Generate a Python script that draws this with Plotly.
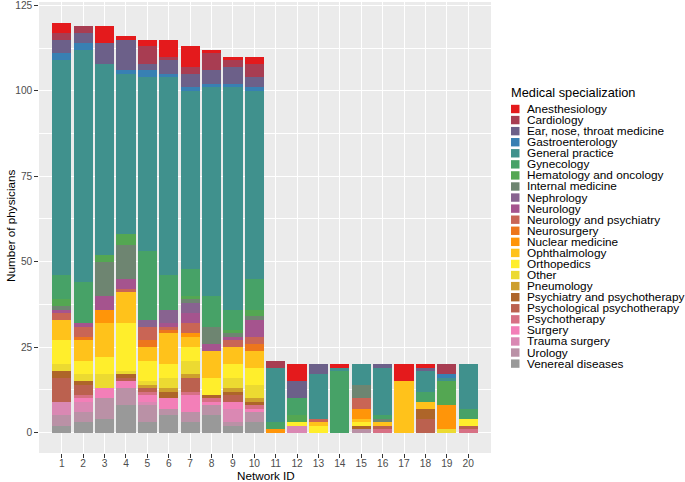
import plotly.graph_objects as go

# ---------------- data ----------------
network_ids = list(range(1, 21))
tick_labels = [str(i) for i in network_ids]

specializations = [
    "Anesthesiology", "Cardiology", "Ear, nose, throat medicine", "Gastroenterology",
    "General practice", "Gynecology", "Hematology and oncology", "Internal medicine",
    "Nephrology", "Neurology", "Neurology and psychiatry", "Neurosurgery",
    "Nuclear medicine", "Ophthalmology", "Orthopedics", "Other", "Pneumology",
    "Psychiatry and psychotherapy", "Psychological psychotherapy", "Psychotherapy",
    "Surgery", "Trauma surgery", "Urology", "Venereal diseases",
]

anesthesiology = [3, 0, 5, 1, 2, 5, 6, 1, 1, 2, 0, 5, 0, 1, 0, 0, 5, 1, 0, 0]
cardiology     = [2, 2, 0, 0, 5, 1, 2, 5, 2, 4, 2, 0, 0, 0, 0, 0, 0, 0, 3, 0]
ent            = [4, 3, 6, 9, 2, 4, 4, 4, 5, 3, 0, 5, 3, 0, 0, 1, 0, 1, 0, 0]
gastro         = [2, 2, 0, 1, 2, 1, 1, 1, 1, 1, 0, 0, 0, 0, 0, 0, 0, 0, 1, 0]
general        = [63, 68, 56, 47, 51, 58, 52, 61, 65, 55, 16, 0, 13, 1, 6, 14, 0, 6, 1, 13]
gynecology     = [7, 12, 0, 0, 20, 10, 8, 9, 6, 9, 2, 5, 0, 18, 0, 1, 0, 3, 0, 3]
hematology     = [2, 0, 2, 3, 0, 0, 1, 0, 1, 2, 0, 2, 0, 0, 0, 0, 0, 0, 7, 0]
internal       = [1, 0, 10, 10, 0, 0, 1, 5, 1, 1, 0, 0, 0, 0, 4, 1, 0, 0, 0, 0]
nephrology     = [0, 0, 0, 0, 2, 4, 3, 0, 0, 0, 0, 0, 0, 0, 0, 0, 0, 0, 0, 0]
neurology      = [1, 1, 4, 3, 0, 1, 3, 2, 1, 5, 0, 0, 0, 0, 0, 0, 0, 0, 0, 0]
neuro_psych    = [2, 3, 0, 1, 4, 1, 3, 0, 2, 2, 0, 0, 1, 0, 3, 0, 0, 0, 0, 0]
neurosurgery   = [0, 1, 0, 0, 2, 1, 0, 0, 0, 2, 0, 0, 0, 0, 0, 0, 0, 0, 0, 0]
nuclear        = [0, 0, 4, 0, 0, 0, 1, 0, 0, 0, 1, 0, 0, 0, 3, 0, 0, 0, 7, 0]
ophthalmology  = [6, 6, 10, 9, 4, 9, 3, 8, 5, 5, 0, 0, 1, 0, 1, 1, 15, 2, 0, 0]
orthopedics    = [7, 4, 5, 14, 6, 4, 4, 5, 4, 5, 0, 1, 2, 0, 1, 0, 0, 0, 0, 2]
other          = [2, 2, 4, 1, 1, 3, 4, 0, 3, 4, 0, 0, 0, 0, 0, 0, 0, 0, 1, 0]
pneumology     = [0, 0, 0, 0, 1, 1, 1, 0, 1, 1, 0, 0, 0, 0, 0, 0, 0, 0, 0, 0]
psychiatry     = [2, 1, 0, 1, 0, 2, 0, 1, 1, 1, 0, 0, 0, 0, 1, 0, 0, 3, 0, 0]
psychological  = [7, 3, 0, 1, 1, 0, 4, 0, 2, 0, 0, 0, 0, 0, 0, 1, 0, 4, 0, 1]
psychotherapy  = [0, 1, 0, 0, 1, 0, 1, 1, 0, 1, 0, 0, 0, 0, 0, 1, 0, 0, 0, 1]
surgery        = [0, 1, 3, 2, 2, 3, 5, 1, 2, 1, 0, 0, 0, 0, 0, 0, 0, 0, 0, 0]
trauma         = [4, 3, 0, 0, 1, 0, 0, 0, 4, 0, 0, 2, 0, 0, 0, 0, 0, 0, 0, 0]
urology        = [3, 3, 6, 5, 5, 2, 3, 3, 1, 3, 0, 0, 0, 0, 1, 0, 0, 0, 0, 0]
venereal       = [2, 3, 4, 8, 3, 5, 3, 5, 2, 3, 0, 0, 0, 0, 0, 0, 0, 0, 0, 0]

series = [anesthesiology, cardiology, ent, gastro, general, gynecology, hematology,
          internal, nephrology, neurology, neuro_psych, neurosurgery, nuclear,
          ophthalmology, orthopedics, other, pneumology, psychiatry, psychological,
          psychotherapy, surgery, trauma, urology, venereal]

y_ticks = [0, 25, 50, 75, 100, 125]
y_minor = [12.5, 37.5, 62.5, 87.5, 112.5]

# ---------------- colours: Set1 ramp to 24 ----------------
set1 = ["#E41A1C", "#377EB8", "#4DAF4A", "#984EA3", "#FF7F00",
        "#FFFF33", "#A65628", "#F781BF", "#999999"]


def ramp(anchors, n):
    rgb = [tuple(int(a[i:i + 2], 16) for i in (1, 3, 5)) for a in anchors]
    out = []
    for k in range(n):
        t = k * (len(rgb) - 1) / (n - 1)
        j = min(int(t), len(rgb) - 2)
        f = t - j
        c = [round(rgb[j][m] + (rgb[j + 1][m] - rgb[j][m]) * f) for m in range(3)]
        out.append("#%02X%02X%02X" % tuple(c))
    return out


colors = ramp(set1, len(specializations))

# ---------------- figure ----------------
FONT = "Liberation Sans, Arial, sans-serif"
fig = go.Figure()
for name, vals, col in reversed(list(zip(specializations, series, colors))):
    fig.add_trace(go.Bar(
        x=network_ids, y=vals, name=name, width=0.9,
        marker=dict(color=col, line=dict(width=0)),
        showlegend=False,
    ))

W, H = 685, 482
ML, MR, MT, MB = 39, 194, 2, 29
PW, PH = W - ML - MR, H - MT - MB


def px_x(px):
    return (px - ML) / PW


def px_y(py):
    return (MT + PH - py) / PH


annotations = [
    dict(text="Number of physicians", x=px_x(10), y=px_y(226), xref="paper", yref="paper",
         textangle=-90, showarrow=False, font=dict(size=11.7, color="black", family=FONT),
         xanchor="center", yanchor="middle"),
    dict(text="Network ID", x=px_x(266), y=px_y(475), xref="paper", yref="paper",
         showarrow=False, font=dict(size=11.7, color="black", family=FONT),
         xanchor="center", yanchor="middle"),
    dict(text="Medical specialization", x=px_x(509), y=px_y(92), xref="paper", yref="paper",
         showarrow=False, font=dict(size=12.8, color="black", family=FONT),
         xanchor="left", yanchor="middle"),
]
shapes = []
for i, (name, col) in enumerate(zip(specializations, colors)):
    cy = 109 + 11.07 * i
    shapes.append(dict(type="rect", xref="paper", yref="paper",
                       x0=px_x(511), x1=px_x(519.5), y0=px_y(cy + 4.2), y1=px_y(cy - 4.2),
                       fillcolor=col, line=dict(width=0)))
    annotations.append(dict(text=name, x=px_x(525), y=px_y(cy), xref="paper", yref="paper",
                            showarrow=False, font=dict(size=11.8, color="black", family=FONT),
                            xanchor="left", yanchor="middle"))

fig.update_layout(
    width=W, height=H,
    margin=dict(l=ML, r=MR, t=MT, b=MB, autoexpand=False),
    barmode="stack",
    plot_bgcolor="#EBEBEB", paper_bgcolor="white",
    font=dict(family=FONT),
    showlegend=False,
    annotations=annotations,
    shapes=shapes,
)
fig.update_xaxes(
    range=[-0.066, 21.066], tickvals=network_ids, ticktext=tick_labels,
    showgrid=True, gridcolor="white", gridwidth=1.1, zeroline=False,
    ticks="outside", ticklen=3.7, tickwidth=1.1, tickcolor="#333333",
    tickfont=dict(size=10.2, color="#4D4D4D", family=FONT), showline=False,
    automargin=False, ticklabelstandoff=-3,
)
fig.update_yaxes(
    range=[-6, 126], tickvals=y_ticks,
    showgrid=True, gridcolor="white", gridwidth=1.1, zeroline=False,
    minor=dict(tickvals=y_minor, showgrid=True, gridcolor="white", gridwidth=0.55, ticks=""),
    ticks="outside", ticklen=3.7, tickwidth=1.1, tickcolor="#333333",
    tickfont=dict(size=10.2, color="#4D4D4D", family=FONT), showline=False,
    automargin=False, ticklabeloverflow="allow",
)

fig.write_html(
    "out.html",
    config={"displayModeBar": False},
    post_script="document.body.style.margin='0';document.body.style.padding='0';",
)
